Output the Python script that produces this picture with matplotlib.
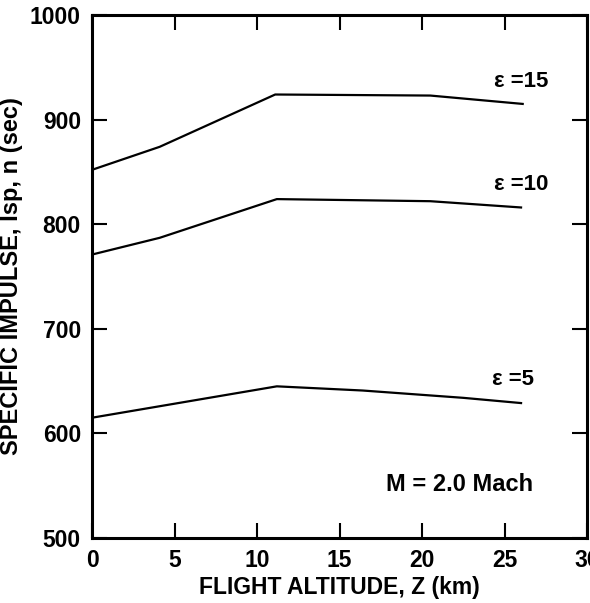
import matplotlib
matplotlib.use("Agg")
import matplotlib.pyplot as plt

# Data
alt_15 = [0, 4.1, 11.1, 20.5, 26.1]
isp_15 = [852, 874, 924, 923, 915]
alt_10 = [0, 4.1, 11.2, 20.5, 26.0]
isp_10 = [771, 787, 824, 822, 816]
alt_5 = [0, 11.2, 16.4, 22.5, 26.0]
isp_5 = [615, 645, 641, 634, 629]

curve_labels = ["\u03b5 =15", "\u03b5 =10", "\u03b5 =5"]
label_pos_x = [26.0, 26.0, 25.5]
label_pos_y = [936, 838, 652]

x_ticks = [0, 5, 10, 15, 20, 25, 30]
y_ticks = [500, 600, 700, 800, 900, 1000]

plt.rcParams['font.family'] = ['Liberation Sans Narrow', 'Liberation Sans', 'DejaVu Sans']
plt.rcParams['font.weight'] = 'bold'

fig = plt.figure(figsize=(5.9, 6.03), dpi=100)
ax = fig.add_axes([0.156, 0.1078, 0.839, 0.8673])

for xs, ys in [(alt_15, isp_15), (alt_10, isp_10), (alt_5, isp_5)]:
    ax.plot(xs, ys, color='black', lw=1.6)

for t, lx, ly in zip(curve_labels, label_pos_x, label_pos_y):
    ax.text(lx, ly, t, ha='center', va='center', fontsize=16, fontweight='bold')

ax.text(22.3, 551, "M = 2.0 Mach", ha='center', va='center', fontsize=17, fontweight='bold')

ax.set_xlim(0, 30)
ax.set_ylim(500, 1000)
ax.set_xticks(x_ticks)
ax.set_yticks(y_ticks)
ax.tick_params(direction='in', length=11, width=1.5, top=True, right=True,
               labelsize=16.5, pad=8)
for lab in ax.get_xticklabels() + ax.get_yticklabels():
    lab.set_fontweight('bold')
for s in ax.spines.values():
    s.set_linewidth(2.2)

ax.set_xlabel("FLIGHT ALTITUDE, Z (km)", fontsize=16.5, fontweight='bold', labelpad=3)
ax.set_ylabel("SPECIFIC IMPULSE, Isp, n (sec)", fontsize=17, fontweight='bold', labelpad=5)

fig.savefig("out.png", dpi=100)
